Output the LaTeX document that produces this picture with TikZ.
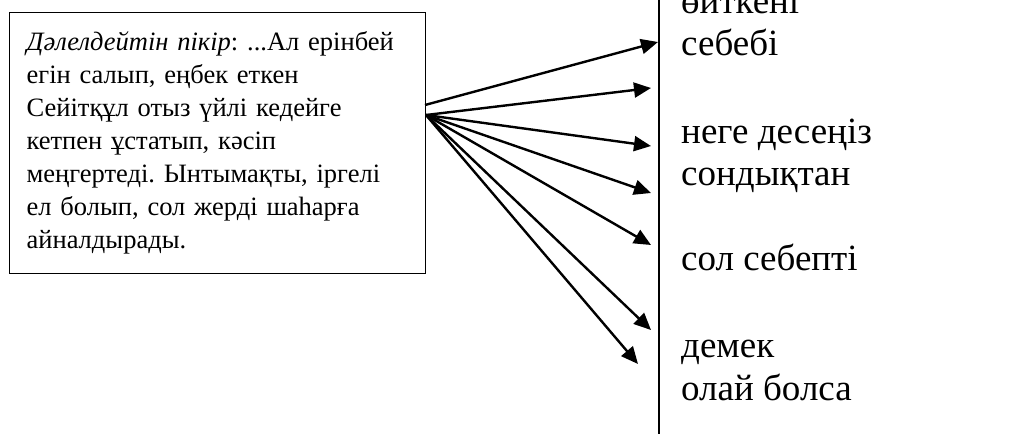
\documentclass[tikz,border=0pt]{standalone}
\usepackage{fontspec}
\setmainfont{Liberation Serif}
\usetikzlibrary{arrows.meta}
\frenchspacing
\tikzset{
  arr/.style={line width=2.4pt, -{Triangle[length=17pt,width=15pt]}},
  conn/.style={anchor=base west, inner sep=0pt, font=\fontsize{37}{42}\selectfont},
}
\begin{document}
\begin{tikzpicture}[x=1pt,y=-1pt]
\useasboundingbox (0,0) rectangle (1010,434);
\node (box) [draw, line width=1.3pt, anchor=north west, minimum width=416pt, minimum height=261pt,
  text width=382pt, inner xsep=17pt, align=left, font=\fontsize{26.5}{33}\selectfont] at (9,12)
  {\mbox{\textit{Дәлелдейтін пікір}: ...Ал ерінбей}\\
   егін салып, еңбек еткен\\
   Сейітқұл отыз үйлі кедейге\\
   кетпен ұстатып, кәсіп\\
   меңгертеді. Ынтымақты, іргелі\\
   ел болып, сол жерді шаһарға\\
   айналдырады.};
\coordinate (vtop) at (659,0);
\coordinate (vbot) at (659,434);
\draw[line width=2pt] (vtop) -- (vbot);
\node (w1) [conn] at (681,13) {өйткені};
\node (w2) [conn] at (681,55) {себебі};
\node (w3) [conn] at (681,143) {неге десеңіз};
\node (w4) [conn] at (681,185) {сондықтан};
\node (w5) [conn] at (681,270) {сол себепті};
\node (w6) [conn] at (681,357) {демек};
\node (w7) [conn] at (681,400) {олай болса};
\coordinate (o1) at (425,105);
\coordinate (o2) at (426,115);
\coordinate (t1) at (658,42);
\coordinate (t2) at (651,88);
\coordinate (t3) at (651,146);
\coordinate (t4) at (651,193);
\coordinate (t5) at (651,245);
\coordinate (t6) at (651,330);
\coordinate (t7) at (638,364);
\draw[arr] (o1) -- (t1);
\draw[arr] (o2) -- (t2);
\draw[arr] (o2) -- (t3);
\draw[arr] (o2) -- (t4);
\draw[arr] (o2) -- (t5);
\draw[arr] (o2) -- (t6);
\draw[arr] (o2) -- (t7);
\end{tikzpicture}
\end{document}
